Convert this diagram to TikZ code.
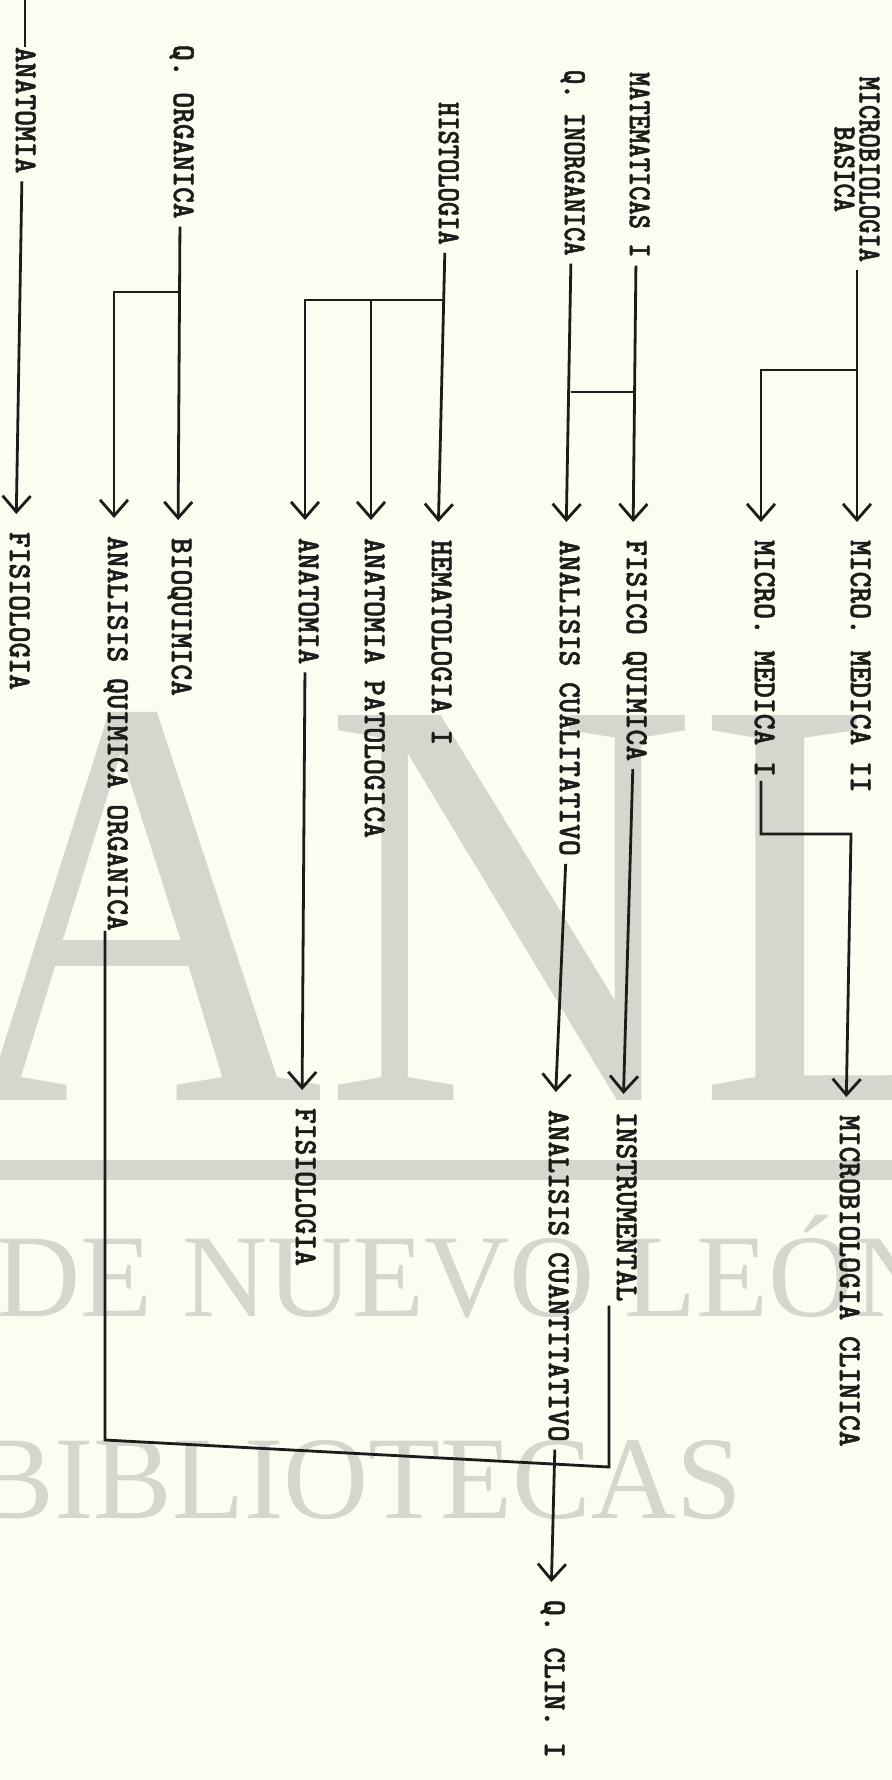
\documentclass[tikz,border=0pt]{standalone}
\usepackage{fontspec}
\newfontfamily\wmfont{Liberation Serif}
\newfontfamily\tw[FakeStretch=0.94,FakeBold=1.6]{lmmonolt10-bold.otf}
\newfontfamily\twn[FakeStretch=0.85,FakeBold=1.6]{lmmonolt10-bold.otf}
\usetikzlibrary{arrows.meta}
\definecolor{paper}{RGB}{252,252,240}
\definecolor{wm}{RGB}{214,214,206}
\definecolor{ink}{RGB}{28,28,26}
\begin{document}
\begin{tikzpicture}[x=0.5pt,y=-0.5pt,
  lab/.style={rotate=-90,anchor=west,inner sep=0pt,outer sep=0pt,text=ink,
    text height=0.61em,text depth=0pt,font=\fontsize{16}{14}\selectfont\tw},
  labn/.style={lab,font=\fontsize{16}{14}\selectfont\twn},
  conn/.style={draw=ink,line width=1.4pt},
  arr/.style={conn,shorten <=4pt,shorten >=9pt,
    -{Straight Barb[length=8pt,width=14pt,line width=1.4pt]}},
  wmtext/.style={anchor=base west,inner sep=0pt,text=wm},
]
\fill[paper] (0,0) rectangle (892,1780);
\useasboundingbox (0,0) rectangle (892,1780);

% watermark
\begin{scope}
\clip (0,0) rectangle (892,1780);
\node[wmtext,xscale=0.88,font=\fontsize{294}{294}\selectfont\wmfont] (wmanl) at (-50,1100) {ANL};
\fill[wm] (0,1160) rectangle (892,1180);
\node[wmtext,font=\fontsize{59}{59}\selectfont\wmfont] (wmnl) at (-5,1316) {DE NUEVO LEÓN};
\node[wmtext,font=\fontsize{59}{59}\selectfont\wmfont] (wmbib) at (-25,1518) {BIBLIOTECAS};
\end{scope}

% first level
\node[rotate=-90,anchor=west,inner sep=0pt,text=ink,align=center,
  font=\fontsize{16}{12.5}\selectfont\twn] (mb) at (857,76) {MICROBIOLOGIA\\BASICA};
\node[labn] (mat) at (636,72) {MATEMATICAS I};
\node[labn] (qi)  at (571,70) {Q. INORGANICA};
\node[labn] (his) at (445,102) {HISTOLOGIA};
\node[lab]  (qo)  at (180,45) {Q. ORGANICA};
\node[lab]  (an1) at (22,47) {ANATOMIA};

% second level
\node[lab] (mm2) at (857,540) {MICRO. MEDICA II};
\node[lab] (mm1) at (761,540) {MICRO. MEDICA I};
\node[lab] (fq)  at (633,540) {FISICO QUIMICA};
\node[lab] (acl) at (566,540) {ANALISIS CUALITATIVO};
\node[lab] (hem) at (438,540) {HEMATOLOGIA I};
\node[lab] (ap)  at (371,538) {ANATOMIA PATOLOGICA};
\node[lab] (an2) at (305,538) {ANATOMIA};
\node[lab] (bq)  at (178,538) {BIOQUIMICA};
\node[lab] (aqo) at (114,536) {ANALISIS QUIMICA ORGANICA};
\node[lab] (fis1) at (16,532) {FISIOLOGIA};

% third level
\node[lab] (mc)  at (846,1115) {MICROBIOLOGIA CLINICA};
\node[lab] (ins) at (623,1112) {INSTRUMENTAL};
\node[lab] (acn) at (555,1110) {ANALISIS CUANTITATIVO};
\node[lab] (fis2) at (302,1108) {FISIOLOGIA};
\node[lab] (qc)  at (551,1600) {Q. CLIN. I};

% helper coordinates
\coordinate (h1) at (0,370);
\coordinate (h2) at (0,392);
\coordinate (h3) at (0,300);
\coordinate (h4) at (0,292);
\coordinate (top) at (25,0);
\coordinate (k1) at (851,834);
\coordinate (k2) at (609,1467);
\coordinate (k3) at (105,1440);

% connectors
\draw[arr] (mb.east) -- (mm2.west);
\draw[arr,shorten <=0pt] (mb.east |- h1) -| (mm1.west);
\draw[arr] (mat.east) -- (fq.west);
\draw[arr] (qi.east) -- (acl.west);
\draw[conn] (qi.east |- h2) -- (mat.east |- h2);
\draw[arr] (his.east) -- (hem.west);
\draw[arr,shorten <=0pt] (his.east |- h3) -| (an2.west);
\draw[arr,shorten <=0pt] (ap.west |- h3) -- (ap.west);
\draw[arr] (qo.east) -- (bq.west);
\draw[arr,shorten <=0pt] (qo.east |- h4) -| (aqo.west);
\draw[arr] (an1.east) -- (fis1.west);
\draw[conn] (top) -- (an1.west -| top);
\draw[arr,shorten <=2pt] (mm1.east) |- (k1) -- (mc.west);
\draw[arr] (fq.east) -- (ins.west);
\draw[arr] (acl.east) -- (acn.west);
\draw[arr] (an2.east) -- (fis2.west);
\draw[conn,shorten <=2pt] (ins.east -| k2) -- (k2) -- (k3) -- (aqo.east -| k3);
\draw[arr] (acn.east) -- (qc.west);
\end{tikzpicture}
\end{document}
